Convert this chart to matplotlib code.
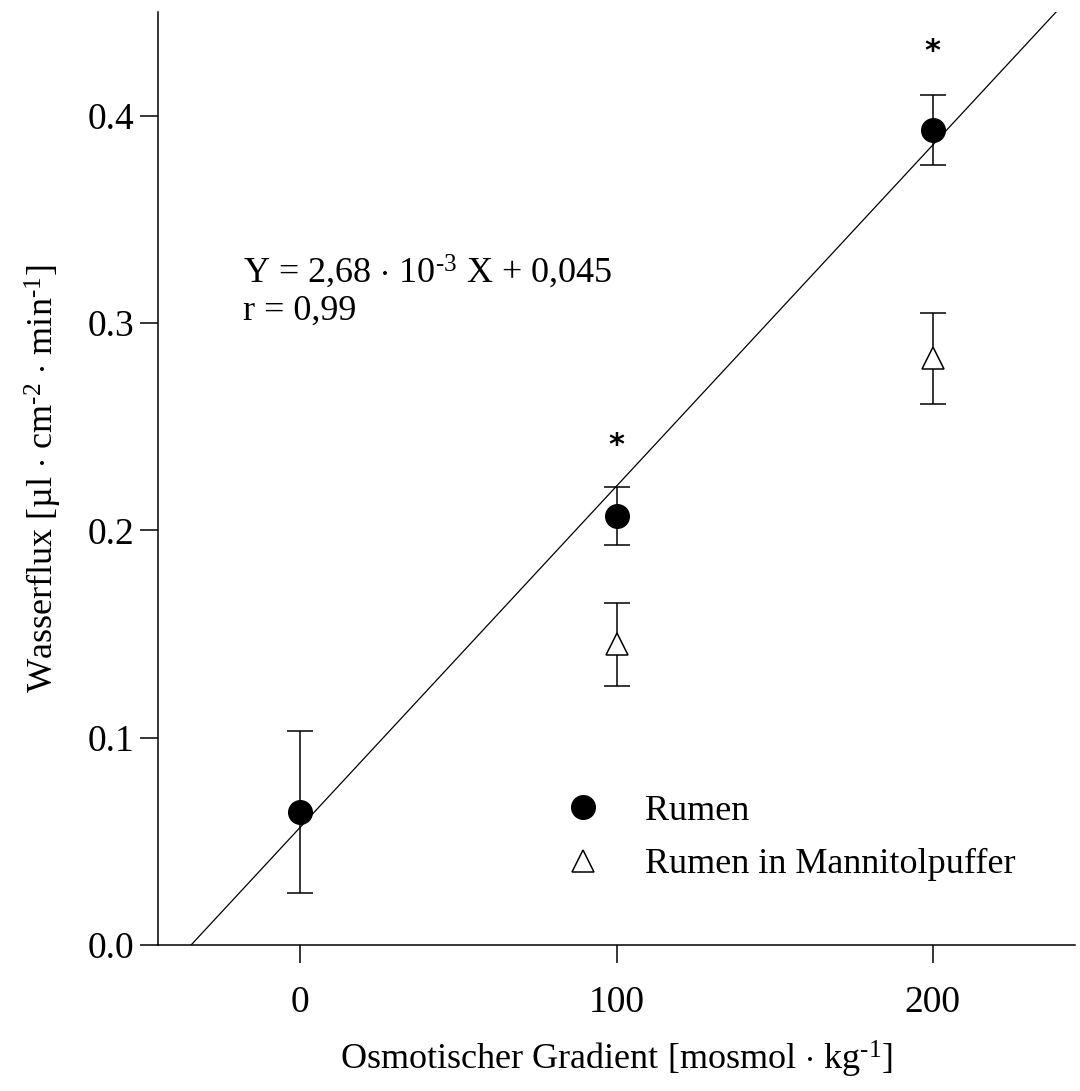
import numpy as np
import matplotlib
matplotlib.use("Agg")
import matplotlib.pyplot as plt

plt.rcParams['font.family'] = ['Liberation Serif', 'DejaVu Serif']
plt.rcParams['mathtext.fontset'] = 'custom'
plt.rcParams['mathtext.rm'] = 'Liberation Serif'
plt.rcParams['mathtext.it'] = 'Liberation Serif:italic'

# data
gradient = [0, 100, 200]
rumen = [0.064, 0.207, 0.393]
rumen_err = [0.039, 0.014, 0.017]
manni_x = [100, 200]
manni = [0.145, 0.283]
manni_err = [0.020, 0.022]
star_x = [100, 200]
star_y = [0.241, 0.431]

fig = plt.figure(figsize=(10.8, 10.91), dpi=100)
ax = fig.add_axes([0.1463, 0.1338, 0.8491, 0.8552])

# regression line of the Rumen means
slope, icpt = np.polyfit(gradient, rumen, 1)
xl = np.array([-45, 245])
ax.plot(xl, slope * xl + icpt, color='black', lw=0.9, zorder=1)

ax.errorbar(gradient, rumen, yerr=rumen_err, fmt='none', ecolor='black',
            elinewidth=1.1, capsize=9.5, capthick=1.1, zorder=2)
ax.errorbar(manni_x, manni, yerr=manni_err, fmt='none', ecolor='black',
            elinewidth=1.1, capsize=9.5, capthick=1.1, zorder=2)
ax.plot(gradient, rumen, 'o', color='black', ms=17, ls='none',
        label='Rumen', zorder=3)
ax.plot(manni_x, manni, '^', mfc='white', mec='black', mew=1.1, ms=16,
        ls='none', label='Rumen in Mannitolpuffer', zorder=3)

for x, y in zip(star_x, star_y):
    ax.text(x, y, '*', ha='center', va='center', fontsize=22,
            family='DejaVu Sans', fontweight='bold')

ax.text(-18, 0.3246, r'Y = 2,68 $\cdot$ 10$^{\text{-3}}$ X + 0,045',
        fontsize=26, va='center', ha='left')
ax.text(-18, 0.3055, 'r = 0,99', fontsize=26, va='center', ha='left')

ax.legend(loc='upper left', bbox_to_anchor=(0.434, 0.161), frameon=False,
          fontsize=26, numpoints=1, handlelength=1.5, handletextpad=0.97,
          labelspacing=0.55, borderpad=0, borderaxespad=0)

ax.set_xlim(-45, 245)
ax.set_ylim(0, 0.45)
ax.set_xticks([0, 100, 200])
ax.set_yticks([0.0, 0.1, 0.2, 0.3, 0.4])
ax.set_yticklabels(['0.0', '0.1', '0.2', '0.3', '0.4'])
ax.tick_params(direction='out', length=13, width=1.1, labelsize=27)
ax.tick_params(axis='x', pad=16)
ax.tick_params(axis='y', pad=4)
for s in ['top', 'right']:
    ax.spines[s].set_visible(False)
for s in ['left', 'bottom']:
    ax.spines[s].set_linewidth(1.1)

ax.set_xlabel(r'Osmotischer Gradient [mosmol $\cdot$ kg$^{\text{-1}}$]',
              fontsize=26, labelpad=14)
ax.set_ylabel(r'Wasserflux [µl $\cdot$ cm$^{\text{-2}}$ $\cdot$ min$^{\text{-1}}$]',
              fontsize=26, labelpad=17)

fig.savefig('out.png', dpi=100)
